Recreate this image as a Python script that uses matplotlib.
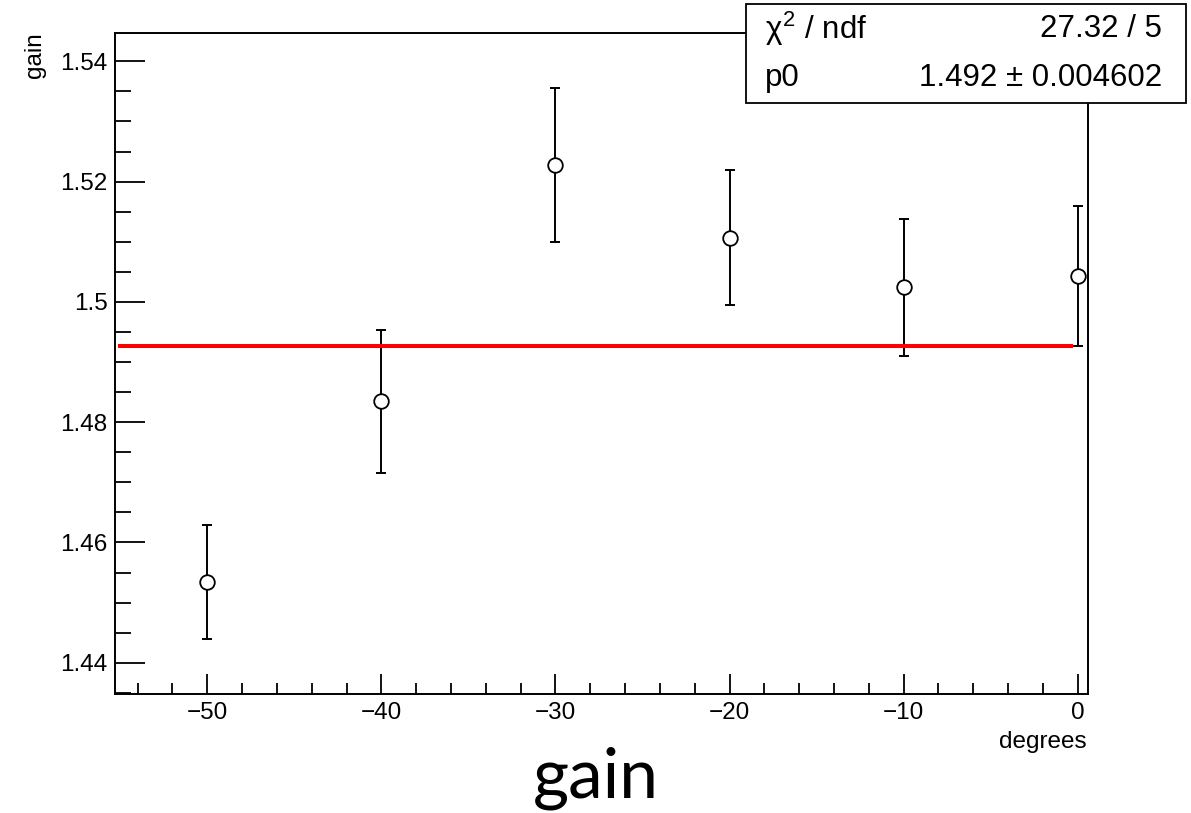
import matplotlib.pyplot as plt
from matplotlib.patches import Rectangle
from matplotlib.ticker import MultipleLocator, FuncFormatter

# measured points
degrees = [-50, -40, -30, -20, -10, 0]
gain = [1.4534, 1.4835, 1.5228, 1.5107, 1.5024, 1.5043]
gain_err = [0.0095, 0.0119, 0.0128, 0.0112, 0.0114, 0.0116]

# constant fit
fit_p0 = 1.4926
fit_x = [-55.0, -0.4]

stat_names = [r'$\chi^{2}$ / ndf', 'p0']
stat_values = ['27.32 / 5', '1.492 \u00b1 0.004602']

font = ['Liberation Sans', 'DejaVu Sans']
plt.rcParams['font.family'] = font
plt.rcParams['mathtext.fontset'] = 'custom'
plt.rcParams['mathtext.rm'] = 'Liberation Sans'
plt.rcParams['mathtext.it'] = 'Liberation Sans'


def main():
    fig = plt.figure(figsize=(11.91, 8.13), dpi=100)
    ax = fig.add_axes([0.0963, 0.1464, 0.817, 0.8126])

    ax.errorbar(degrees, gain, yerr=gain_err, fmt='none', ecolor='black',
                elinewidth=1.4, capsize=3.3, capthick=1.4, zorder=2)
    ax.plot(degrees, gain, 'o', ms=10.5, mfc='white', mec='black', mew=1.3,
            linestyle='none', zorder=4)
    ax.plot(fit_x, [fit_p0, fit_p0], color='#ff0000', lw=2.9, zorder=3)

    ax.set_xlim(-55.32, 0.58)
    ax.set_ylim(1.4348, 1.54466)

    ax.xaxis.set_major_locator(MultipleLocator(10))
    ax.xaxis.set_minor_locator(MultipleLocator(2))
    ax.yaxis.set_major_locator(MultipleLocator(0.02))
    ax.yaxis.set_minor_locator(MultipleLocator(0.005))
    ax.yaxis.set_major_formatter(FuncFormatter(lambda v, p: f'{v:g}'))

    ax.tick_params(axis='both', which='both', direction='in',
                   top=False, right=False, width=1.3, labelsize=17.5)
    ax.tick_params(axis='y', which='major', length=21.5, pad=5)
    ax.tick_params(axis='y', which='minor', length=11.5)
    ax.tick_params(axis='x', which='major', length=14.2, pad=6)
    ax.tick_params(axis='x', which='minor', length=8)
    for s in ax.spines.values():
        s.set_linewidth(1.4)

    # axis titles placed like ROOT does
    fig.text(35 / 1191, 1 - 32 / 813, 'gain', rotation=90, ha='center',
             va='top', fontsize=17.5)
    fig.text(1087 / 1191, 1 - 742 / 813, 'degrees', ha='right',
             va='center', fontsize=17.5)

    # stats box
    bx0, by0, bx1, by1 = 746 / 1191, 1 - 103 / 813, 1186 / 1191, 1 - 4 / 813
    fig.add_artist(Rectangle((bx0, by0), bx1 - bx0, by1 - by0,
                             transform=fig.transFigure, facecolor='white',
                             edgecolor='black', lw=1.3, zorder=5))
    row_h = (by1 - by0) / 2
    for i in range(2):
        yy = by1 - row_h * (i + 0.5)
        fig.text(765 / 1191, yy, stat_names[i], ha='left', va='center',
                 fontsize=22.5, zorder=6)
        fig.text(1162 / 1191, yy, stat_values[i], ha='right', va='center',
                 fontsize=22.5, zorder=6)

    # caption under the plot
    fig.text(596 / 1191, 1 - 797 / 813, 'gain', ha='center', va='baseline',
             fontsize=50, family=['Lato', 'DejaVu Sans'])

    fig.savefig('out.png', dpi=100)


if __name__ == "__main__":
    main()
